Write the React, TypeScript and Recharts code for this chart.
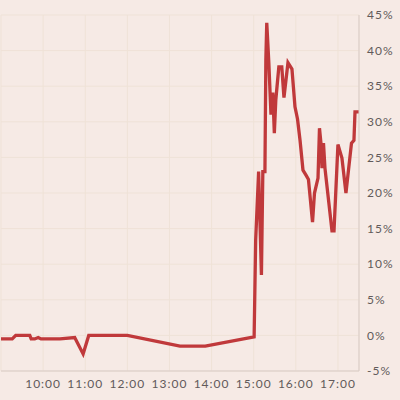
import React from 'react';
import { LineChart, Line, XAxis, YAxis, CartesianGrid } from 'recharts';

// minutes since midnight
const times = [
  540, 556, 561, 581, 583, 588, 593, 597, 624, 645, 657, 665, 720, 795, 831,
  900.6, 902.8, 907, 911, 913, 916, 917.3, 918.6, 921.5, 924.6, 927.2, 929.4,
  931.5, 935.8, 940, 943.1, 948.8, 954.5, 958.8, 962.4, 966, 970.2, 974.5, 978,
  983.8, 986.6, 991.6, 993.7, 995.8, 997.3, 999.4, 1001.5, 1011.5, 1014.4, 1020,
  1025.7, 1031.4, 1039.3, 1042.8, 1044.3, 1050,
];

// percent change
const changes = [
  -0.5, -0.5, 0, 0, -0.5, -0.5, -0.3, -0.5, -0.5, -0.3, -2.6, 0, 0, -1.5, -1.5,
  -0.2, 13.4, 23.0, 8.5, 23.0, 23.0, 38.7, 43.9, 38.4, 31.0, 34.1, 28.4,
  33.1, 37.7, 37.7, 33.4, 38.3, 37.4, 32.1, 30.4, 27.4, 23.2, 22.5, 21.9,
  15.9, 20.0, 22.1, 29.1, 27.0, 23.5, 27.0, 23.5, 14.7, 14.7, 26.8,
  24.9, 20.0, 27.0, 27.4, 31.4, 31.4,
];

const xTicks = [600, 660, 720, 780, 840, 900, 960, 1020];
const yTicks = [-5, 0, 5, 10, 15, 20, 25, 30, 35, 40, 45];

const data = times.map((t, i) => ({ t, v: changes[i] }));

const tickStyle = { fill: '#625a5a', fontSize: 12, fontFamily: 'Lato', letterSpacing: 1 };

export default function App() {
  return (
    <div style={{ position: 'absolute', left: 0, top: 0, width: 400, height: 400, background: '#f6eae5' }}>
      <LineChart width={400} height={400} data={data} margin={{ top: 15, right: 0, left: 1, bottom: 0 }}>
        <CartesianGrid stroke="#efe2d7" strokeWidth={1} />
        <XAxis
          dataKey="t"
          type="number"
          domain={[540, 1050]}
          ticks={xTicks}
          tickFormatter={(m: number) => `${Math.floor(m / 60)}:00`}
          tick={tickStyle}
          tickLine={false}
          axisLine={{ stroke: '#d9cbc6' }}
          height={29}
          interval={0}
        />
        <YAxis
          orientation="right"
          type="number"
          domain={[-5, 45]}
          ticks={yTicks}
          tickFormatter={(v: number) => `${v}%`}
          tick={{ ...tickStyle, textAnchor: 'start' }}
          tickLine={false}
          axisLine={{ stroke: '#d9cbc6' }}
          width={41}
          interval={0}
        />
        <Line
          type="linear"
          dataKey="v"
          stroke="#c0393b"
          strokeWidth={3.3}
          dot={false}
          isAnimationActive={false}
        />
      </LineChart>
    </div>
  );
}
